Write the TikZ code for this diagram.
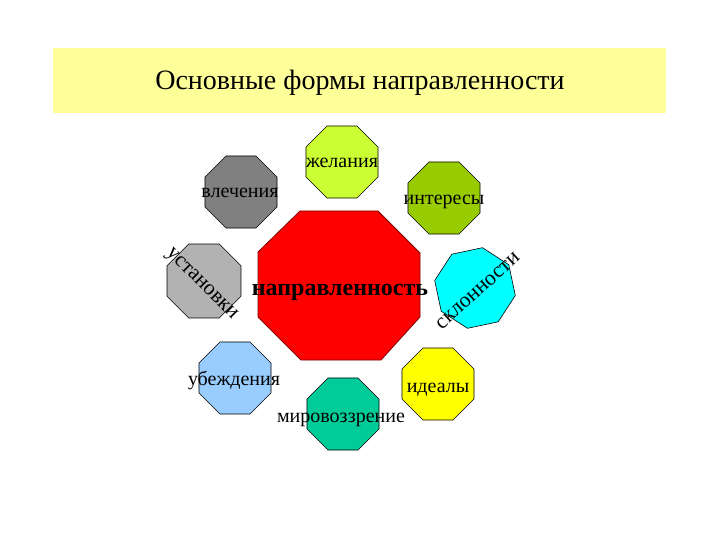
\documentclass[tikz,border=0pt]{standalone}
\usepackage{fontspec}
\setmainfont{Liberation Serif}
\usetikzlibrary{shapes.geometric}
\definecolor{bandyellow}{HTML}{FFFF99}
\definecolor{cLime}{HTML}{CCFF33}
\definecolor{cGray}{HTML}{808080}
\definecolor{cOlive}{HTML}{99CC00}
\definecolor{cLightGray}{HTML}{B2B2B2}
\definecolor{cCyan}{HTML}{00FFFF}
\definecolor{cSky}{HTML}{99CCFF}
\definecolor{cTeal}{HTML}{00CC99}
\definecolor{cYellow}{HTML}{FFFF00}
\definecolor{cRed}{HTML}{FF0000}
\definecolor{cDarkRed}{HTML}{800000}
\tikzset{
  octo/.style={regular polygon, regular polygon sides=8, minimum size=78pt, inner sep=0pt, draw=black, line width=0.6pt},
  lbl/.style={font=\fontsize{20}{20}\selectfont, inner sep=0pt, anchor=base},
  rlbl/.style={font=\fontsize{21.5}{21.5}\selectfont, inner sep=0pt},
}
\begin{document}
\begin{tikzpicture}[x=1pt,y=-1pt]
\useasboundingbox (0,0) rectangle (720,540);
\fill[white] (0,0) rectangle (720,540);
% title band
\node[fill=bandyellow, minimum width=613pt, minimum height=65pt, inner sep=0pt, anchor=north west] (band) at (53,48) {};
\node[font=\fontsize{28}{28}\selectfont, anchor=base, inner sep=0pt] (title) at (360,90) {Основные формы направленности};
% center octagon
\draw[fill=cRed, draw=cDarkRed, line width=0.8pt] (300,211) -- (378,211) -- (420,253) -- (420,317) -- (381,360) -- (301,360) -- (258,317) -- (258,252) -- cycle;
% small octagons
\node[octo, fill=cLime] (o1) at (342,162) {};
\node[octo, fill=cGray] (o2) at (241,192) {};
\node[octo, fill=cOlive] (o3) at (444,198) {};
\node[octo, fill=cLightGray, minimum size=80pt] (o4) at (204,281) {};
\node[octo, fill=cCyan, minimum size=82pt, rotate=12] (o5) at (475,288) {};
\node[octo, fill=cSky] (o6) at (235,378) {};
\node[octo, fill=cTeal] (o7) at (343,414) {};
\node[octo, fill=cYellow] (o8) at (438,384) {};
% labels
\node[lbl] (t1) at (342,168) {желания};
\node[lbl] (t2) at (240,198) {влечения};
\node[lbl] (t3) at (444,205) {интересы};
\node[rlbl, rotate=-45] (t4) at (201,285) {установки};
\node[rlbl, rotate=42] (t5) at (478,291) {склонности};
\node[lbl] (t6) at (234,385) {убеждения};
\node[lbl] (t7) at (341,422) {мировоззрение};
\node[lbl] (t8) at (438,392) {идеалы};
\node[font=\fontsize{24}{24}\selectfont\bfseries, inner sep=0pt, anchor=base] (tc) at (340,295) {направленность};
\end{tikzpicture}
\end{document}
